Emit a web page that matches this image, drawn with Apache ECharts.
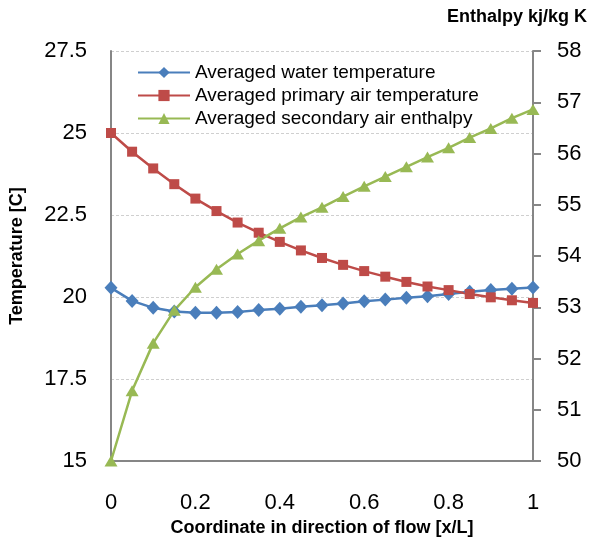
<!DOCTYPE html>
<html>
<head>
<meta charset="utf-8">
<script src="https://cdn.jsdelivr.net/npm/echarts@6/dist/echarts.min.js"></script>
<style>
  html, body { margin: 0; padding: 0; background: #fff; }
  #chart { width: 592px; height: 543px; }
</style>
</head>
<body>
<div id="chart"></div>
<script>
// x/L positions along the flow
const xPos = [0, 0.05, 0.1, 0.15, 0.2, 0.25, 0.3, 0.35, 0.4, 0.45, 0.5,
  0.55, 0.6, 0.65, 0.7, 0.75, 0.8, 0.85, 0.9, 0.95, 1];

// left axis, temperature [C]
const waterTemp = [20.28, 19.88, 19.67, 19.56, 19.52, 19.52, 19.54, 19.6, 19.64, 19.7, 19.75,
  19.8, 19.87, 19.92, 19.98, 20.02, 20.09, 20.16, 20.21, 20.25, 20.29];
const primaryAirTemp = [25.0, 24.43, 23.92, 23.44, 23.0, 22.62, 22.27, 21.96, 21.68, 21.42, 21.19,
  20.98, 20.79, 20.62, 20.46, 20.32, 20.21, 20.09, 19.99, 19.9, 19.82];

// right axis, enthalpy kj/kg K
const secondaryAirEnthalpy = [50.0, 51.37, 52.3, 52.94, 53.39, 53.74, 54.04, 54.3, 54.54, 54.76, 54.95,
  55.16, 55.36, 55.55, 55.74, 55.93, 56.11, 56.31, 56.49, 56.69, 56.86];

const seriesNames = [
  "Averaged water temperature",
  "Averaged primary air temperature",
  "Averaged secondary air enthalpy",
];

const font = "'Liberation Sans', Arial, sans-serif";
const axisGray = "#868686";
const blue = "#4A7EBB";
const red = "#BE4B48";
const green = "#98B954";

const pairs = (vals) => xPos.map((x, i) => [x, vals[i]]);

const chart = echarts.init(document.getElementById("chart"));

const option = {
  animation: false,
  textStyle: { fontFamily: font },
  grid: { left: 110, right: 59, top: 51, bottom: 82 },
  legend: {
    orient: "vertical",
    left: 137,
    top: 63,
    padding: 0,
    itemWidth: 52,
    itemHeight: 14,
    itemGap: 4,
    textStyle: { fontFamily: font, fontSize: 19, color: "#000" },
    data: seriesNames,
  },
  xAxis: {
    type: "value",
    min: 0,
    max: 1,
    interval: 0.2,
    name: "Coordinate in direction of flow [x/L]",
    nameLocation: "middle",
    nameGap: 56,
    nameTextStyle: { fontFamily: font, fontSize: 18, fontWeight: "bold", color: "#000" },
    axisLine: { lineStyle: { color: axisGray, width: 2 } },
    axisTick: { show: false },
    axisLabel: { fontFamily: font, fontSize: 22, color: "#000", margin: 31 },
    splitLine: { show: false },
  },
  yAxis: [
    {
      type: "value",
      min: 15,
      max: 27.5,
      interval: 2.5,
      name: "Temperature [C]",
      nameLocation: "middle",
      nameGap: 85,
      nameTextStyle: { fontFamily: font, fontSize: 18, fontWeight: "bold", color: "#000" },
      axisLine: { show: true, lineStyle: { color: axisGray, width: 2 } },
      axisTick: { show: false },
      axisLabel: { fontFamily: font, fontSize: 22, color: "#000", margin: 24 },
      splitLine: { lineStyle: { color: "#cfcfcf", width: 1, type: [3, 2] } },
    },
    {
      type: "value",
      position: "right",
      min: 50,
      max: 58,
      interval: 1,
      name: "Enthalpy kj/kg K",
      nameLocation: "end",
      nameGap: 25,
      nameTextStyle: {
        fontFamily: font, fontSize: 18, fontWeight: "bold", color: "#000",
        align: "center", padding: [0, 32, 0, 0],
      },
      axisLine: { show: true, lineStyle: { color: axisGray, width: 2 } },
      axisTick: { show: true, inside: false, length: 8, lineStyle: { color: axisGray, width: 2 } },
      axisLabel: { fontFamily: font, fontSize: 22, color: "#000", margin: 24 },
      splitLine: { show: false },
    },
  ],
  series: [
    {
      name: seriesNames[0],
      type: "line",
      yAxisIndex: 0,
      data: pairs(waterTemp),
      symbol: "diamond",
      symbolSize: [13, 14],
      lineStyle: { color: blue, width: 2.5 },
      itemStyle: { color: blue },
    },
    {
      name: seriesNames[1],
      type: "line",
      yAxisIndex: 0,
      data: pairs(primaryAirTemp),
      symbol: "rect",
      symbolSize: 10,
      lineStyle: { color: red, width: 2.5 },
      itemStyle: { color: red },
    },
    {
      name: seriesNames[2],
      type: "line",
      yAxisIndex: 1,
      data: pairs(secondaryAirEnthalpy),
      symbol: "triangle",
      symbolSize: [13, 11],
      lineStyle: { color: green, width: 2.5 },
      itemStyle: { color: green },
    },
  ],
};

chart.setOption(option);
</script>
</body>
</html>
